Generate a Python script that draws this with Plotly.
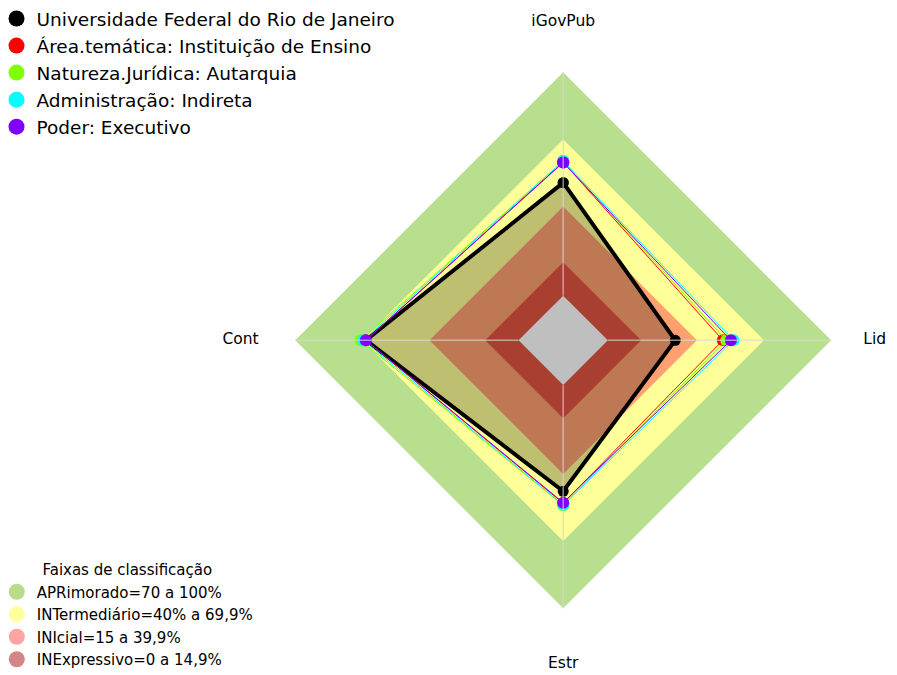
import plotly.graph_objects as go

categories = ["iGovPub", "Lid", "Estr", "Cont"]

series_names = [
    "Universidade Federal do Rio de Janeiro",
    "Área.temática: Instituição de Ensino",
    "Natureza.Jurídica: Autarquia",
    "Administração: Indireta",
    "Poder: Executivo",
]
ufrj = [50.6, 30.2, 47.6, 68.3]
area_tematica = [59.8, 51.5, 53.0, 68.5]
natureza = [60.2, 53.0, 53.9, 70.8]
administracao = [60.3, 56.3, 53.7, 69.6]
poder = [59.6, 55.1, 52.7, 68.4]
series_values = [ufrj, area_tematica, natureza, administracao, poder]
series_colors = ["#000000", "#ff0000", "#80ff00", "#00ffff", "#8000ff"]

band_names = [
    "APRimorado=70 a 100%",
    "INTermediário=40% a 69,9%",
    "INIcial=15 a 39,9%",
    "INExpressivo=0 a 14,9%",
]
band_upper = [100, 69.9, 39.9, 14.9]
band_fill = ["#b8df8e", "#ffff99", "#ffa070", "#e05540"]
band_legend_colors = ["#b6dc8c", "#ffff9e", "#ffa3a3", "#d48585"]

# layout-only: radial placement of the axis-name labels
LABEL_R = [122.6, 119.5, 125, 124.5]

FONT = "DejaVu Sans, Liberation Sans, Arial, sans-serif"

fig = go.Figure()

closed = categories + [categories[0]]

# legend-only dummy traces (hidden under the bands at the centre)
for name, col in zip(series_names, series_colors):
    fig.add_trace(go.Scatterpolar(
        r=[-20], theta=[categories[0]], mode="markers", name=name,
        marker=dict(color=col, size=16), legend="legend", hoverinfo="skip"))
for name, col in zip(band_names, band_legend_colors):
    fig.add_trace(go.Scatterpolar(
        r=[-20], theta=[categories[0]], mode="markers", name=name,
        marker=dict(color=col, size=16), legend="legend2", hoverinfo="skip"))

# classification bands
for up, col in zip(band_upper, band_fill):
    fig.add_trace(go.Scatterpolar(
        r=[up] * 5, theta=closed, mode="lines", fill="toself",
        fillcolor=col, line=dict(width=0, color=col), showlegend=False,
        hoverinfo="skip"))
# empty centre
fig.add_trace(go.Scatterpolar(
    r=[0] * 5, theta=closed, mode="lines", fill="toself",
    fillcolor="#ffffff", line=dict(width=0, color="#ffffff"),
    showlegend=False, hoverinfo="skip"))

# series
for i, (name, vals, col) in enumerate(zip(series_names, series_values, series_colors)):
    if i == 0:
        fig.add_trace(go.Scatterpolar(
            r=vals + [vals[0]], theta=closed, mode="lines+markers",
            fill="toself", fillcolor="rgba(0,0,0,0.25)",
            line=dict(color=col, width=4), marker=dict(color=col, size=11),
            showlegend=False, name=name))
    else:
        fig.add_trace(go.Scatterpolar(
            r=vals + [vals[0]], theta=closed, mode="lines+markers",
            line=dict(color=col, width=1), marker=dict(color=col, size=12),
            showlegend=False, name=name))

# spokes
for c in categories:
    fig.add_trace(go.Scatterpolar(
        r=[0, 100], theta=[c, c], mode="lines",
        line=dict(color="rgba(215,215,215,0.65)", width=1.5),
        showlegend=False, hoverinfo="skip"))

# axis labels
fig.add_trace(go.Scatterpolar(
    r=LABEL_R, theta=categories, mode="text", text=categories,
    textfont=dict(family=FONT, size=15.5, color="black"),
    cliponaxis=False, showlegend=False, hoverinfo="skip"))

fig.update_layout(
    width=897, height=675,
    margin=dict(l=0, r=0, t=0, b=0, autoexpand=False),
    paper_bgcolor="white",
    font=dict(family=FONT, color="black"),
    polar=dict(
        domain=dict(x=[223.6 / 897, 886.8 / 897], y=[11.1 / 675, 674.3 / 675]),
        bgcolor="rgba(0,0,0,0)",
        radialaxis=dict(range=[-20, 128.5], visible=False),
        angularaxis=dict(type="category", categoryarray=categories,
                         rotation=90, direction="clockwise", visible=False),
    ),
    legend=dict(x=-0.0128, y=1.0119, xanchor="left", yanchor="top",
                font=dict(family=FONT, size=18.5, color="black"),
                bgcolor="rgba(0,0,0,0)", tracegroupgap=0),
    legend2=dict(x=-0.0125, y=0.0104, xanchor="left", yanchor="bottom",
                 font=dict(family=FONT, size=15, color="black"),
                 bgcolor="rgba(0,0,0,0)",
                 title=dict(text="Faixas de classificação", side="top center",
                            font=dict(family=FONT, size=15, color="black"))),
    showlegend=True,
)

fig.write_html("out.html")
